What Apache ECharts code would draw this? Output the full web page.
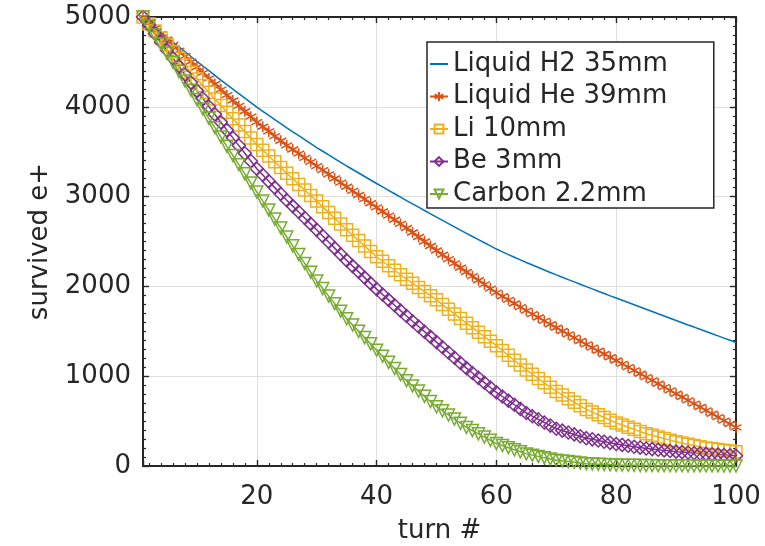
<!DOCTYPE html>
<html>
<head>
<meta charset="utf-8">
<script src="https://cdn.jsdelivr.net/npm/echarts@6/dist/echarts.min.js"></script>
<style>
  html, body { margin: 0; padding: 0; background: #fff; }
  #main { width: 765px; height: 546px; }
</style>
</head>
<body>
<div id="main"></div>
<script>
// turn numbers 1..100
var turns = [];
for (var i = 1; i <= 100; i++) turns.push(i);

var seriesNames = ['Liquid H2 35mm', 'Liquid He 39mm', 'Li 10mm', 'Be 3mm', 'Carbon 2.2mm'];

// values, one per turn
var h2 = [
  5000, 4944, 4888, 4832, 4776, 4722, 4668, 4614, 4560, 4506,
  4454, 4402, 4350, 4298, 4246, 4196, 4146, 4096, 4046, 3996,
  3950, 3904, 3858, 3812, 3766, 3722, 3678, 3634, 3590, 3546,
  3505, 3464, 3423, 3382, 3341, 3302, 3263, 3224, 3185, 3146,
  3108, 3070, 3032, 2994, 2956, 2919, 2882, 2845, 2808, 2771,
  2735, 2699, 2663, 2627, 2591, 2556, 2521, 2486, 2451, 2416,
  2385, 2354, 2324, 2295, 2266, 2238, 2210, 2182, 2155, 2128,
  2102, 2076, 2050, 2024, 1998, 1972, 1946, 1921, 1895, 1870,
  1845, 1820, 1795, 1770, 1745, 1720, 1695, 1670, 1645, 1620,
  1596, 1571, 1547, 1522, 1498, 1473, 1449, 1424, 1400, 1375
];
var he = [
  5000, 4937, 4875, 4812, 4750, 4688, 4626, 4564, 4502, 4440,
  4378, 4316, 4254, 4192, 4130, 4070, 4010, 3950, 3890, 3830,
  3778, 3726, 3674, 3622, 3570, 3524, 3478, 3432, 3386, 3340,
  3294, 3248, 3202, 3156, 3110, 3064, 3018, 2972, 2926, 2880,
  2834, 2788, 2742, 2696, 2650, 2600, 2550, 2500, 2450, 2400,
  2352, 2304, 2256, 2208, 2160, 2114, 2068, 2022, 1976, 1930,
  1890, 1850, 1810, 1770, 1730, 1692, 1654, 1616, 1578, 1540,
  1503, 1466, 1429, 1392, 1355, 1319, 1283, 1247, 1211, 1175,
  1138, 1101, 1064, 1027, 990, 953, 916, 879, 842, 805,
  768, 731, 694, 657, 620, 582, 544, 506, 468, 430
];
var li = [
  5000, 4922, 4845, 4767, 4690, 4614, 4538, 4462, 4386, 4310,
  4236, 4162, 4088, 4014, 3940, 3868, 3796, 3724, 3652, 3580,
  3516, 3452, 3388, 3324, 3260, 3198, 3136, 3074, 3012, 2950,
  2886, 2822, 2758, 2694, 2630, 2570, 2510, 2450, 2390, 2330,
  2280, 2230, 2180, 2130, 2080, 2034, 1988, 1942, 1896, 1850,
  1798, 1746, 1694, 1642, 1590, 1540, 1490, 1440, 1390, 1340,
  1286, 1232, 1178, 1124, 1070, 1022, 974, 926, 878, 830,
  790, 750, 710, 670, 630, 600, 570, 540, 510, 480,
  456, 432, 408, 384, 360, 342, 324, 306, 288, 270,
  256, 242, 228, 214, 200, 192, 184, 176, 168, 160
];
var be = [
  5000, 4907, 4815, 4722, 4630, 4540, 4450, 4360, 4270, 4180,
  4092, 4004, 3916, 3828, 3740, 3654, 3568, 3482, 3396, 3310,
  3240, 3170, 3100, 3030, 2960, 2894, 2828, 2762, 2696, 2630,
  2562, 2494, 2426, 2358, 2290, 2226, 2162, 2098, 2034, 1970,
  1910, 1850, 1790, 1730, 1670, 1612, 1554, 1496, 1438, 1380,
  1322, 1264, 1206, 1148, 1090, 1036, 982, 928, 874, 820,
  774, 728, 682, 636, 590, 555, 520, 485, 450, 415,
  394, 373, 352, 331, 310, 297, 284, 271, 258, 245,
  235, 225, 215, 205, 195, 188, 181, 174, 167, 160,
  155, 150, 145, 140, 135, 131, 127, 123, 119, 115
];
var carbon = [
  5000, 4900, 4800, 4700, 4600, 4496, 4392, 4288, 4184, 4080,
  3976, 3872, 3768, 3664, 3560, 3458, 3356, 3254, 3152, 3050,
  2950, 2850, 2750, 2650, 2550, 2452, 2354, 2256, 2158, 2060,
  1976, 1892, 1808, 1724, 1640, 1570, 1500, 1430, 1360, 1290,
  1222, 1154, 1086, 1018, 950, 892, 834, 776, 718, 660,
  614, 568, 522, 476, 430, 394, 358, 322, 286, 250,
  227, 204, 181, 158, 135, 121, 107, 93, 79, 65,
  57, 49, 41, 33, 25, 22, 19, 16, 13, 10,
  9, 8, 7, 6, 5, 5, 4, 4, 3, 3,
  3, 2, 2, 1, 1, 1, 1, 0, 0, 0
];

var xTicks = [20, 40, 60, 80, 100];
var yTicks = [0, 1000, 2000, 3000, 4000, 5000];

var colors = ['#0072BD', '#D95319', '#EDB120', '#7E2F8E', '#77AC30'];
var axisColor = '#262626';
var font = 'DejaVu Sans';

function pairs(vals) {
  return turns.map(function (t, i) { return [t, vals[i]]; });
}

function makeSeries(idx, vals, symbol, size, rotate) {
  return {
    name: seriesNames[idx],
    type: 'line',
    xAxisIndex: 0,
    yAxisIndex: 0,
    data: pairs(vals),
    symbol: symbol,
    symbolSize: size,
    symbolRotate: rotate || 0,
    showSymbol: symbol !== 'none',
    clip: false,
    lineStyle: { color: colors[idx], width: 1.5 },
    itemStyle: { color: 'rgba(255,255,255,0)', borderColor: colors[idx], borderWidth: 1.5 },
    emphasis: { disabled: true }
  };
}

var asterisk = 'path://M5,0L5,10M0.7,2.5L9.3,7.5M9.3,2.5L0.7,7.5';

var chart = echarts.init(document.getElementById('main'));

var axisCommon = {
  axisLine: { show: true, onZero: false, lineStyle: { color: axisColor, width: 2 } },
  axisTick: { show: true, inside: true, length: 6, lineStyle: { color: axisColor, width: 1.4 } },
  minorTick: { show: true, splitNumber: 10, length: 3, lineStyle: { color: axisColor, width: 1.2 } }
};

var option = {
  animation: false,
  backgroundColor: '#fff',
  color: colors,
  grid: { left: 143, right: 29, top: 17, bottom: 80, containLabel: false, outerBoundsMode: 'none' },
  legend: {
    orient: 'vertical',
    left: 427,
    top: 42,
    padding: [9, 46, 1, 2],
    itemGap: 6.5,
    itemWidth: 18,
    itemHeight: 11,
    backgroundColor: '#fff',
    borderColor: axisColor,
    borderWidth: 1.5,
    borderRadius: 0,
    textStyle: { fontFamily: font, fontSize: 26, color: axisColor },
    data: [
      { name: seriesNames[0], itemStyle: { color: 'rgba(0,0,0,0)', borderWidth: 0 } },
      seriesNames[1], seriesNames[2], seriesNames[3], seriesNames[4]
    ]
  },
  xAxis: [
    Object.assign({
      type: 'value',
      min: 1,
      max: 100,
      splitNumber: 5,
      name: 'turn #',
      nameLocation: 'middle',
      nameGap: 52,
      nameTextStyle: { fontFamily: font, fontSize: 26, color: axisColor },
      axisLabel: {
        margin: 18,
        fontFamily: font,
        fontSize: 26,
        color: axisColor,
        formatter: function (v) { return xTicks.indexOf(v) >= 0 ? String(v) : ''; }
      },
      splitLine: { show: true, lineStyle: { color: '#dedede', width: 1 } }
    }, axisCommon),
    Object.assign({
      type: 'value',
      position: 'top',
      min: 1,
      max: 100,
      splitNumber: 5,
      axisLabel: { show: false },
      splitLine: { show: false }
    }, axisCommon)
  ],
  yAxis: [
    Object.assign({
      type: 'value',
      min: 0,
      max: 5000,
      interval: 1000,
      name: 'survived e+',
      nameLocation: 'middle',
      nameGap: 90,
      nameTextStyle: { fontFamily: font, fontSize: 26, color: axisColor },
      axisLabel: {
        margin: 12,
        fontFamily: font,
        fontSize: 26,
        color: axisColor,
        formatter: function (v) { return yTicks.indexOf(v) >= 0 ? String(v) : ''; }
      },
      splitLine: { show: true, lineStyle: { color: '#dedede', width: 1 } }
    }, axisCommon),
    Object.assign({
      type: 'value',
      position: 'right',
      min: 0,
      max: 5000,
      interval: 1000,
      axisLabel: { show: false },
      splitLine: { show: false }
    }, axisCommon)
  ],
  series: [
    makeSeries(0, h2, 'none', 0),
    makeSeries(1, he, asterisk, 11),
    makeSeries(2, li, 'rect', 12),
    makeSeries(3, be, 'diamond', 13),
    makeSeries(4, carbon, 'triangle', 12, 180)
  ]
};

chart.setOption(option);
</script>
</body>
</html>
